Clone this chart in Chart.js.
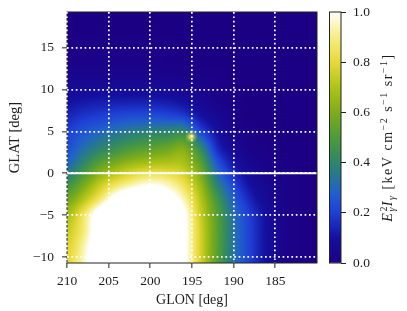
<!DOCTYPE html>
<html>
<head>
<meta charset="utf-8">
<script src="https://cdn.jsdelivr.net/npm/chart.js"></script>
<style>
    html, body { margin: 0; padding: 0; background: #fff; overflow: hidden; }
    #mapChart { position: absolute; left: 0; top: 0; }
    #barChart { position: absolute; left: 320px; top: 0; }
</style>
</head>
<body>
<canvas id="mapChart" width="407" height="311"></canvas>
<canvas id="barChart" width="87" height="311"></canvas>

<script>
    const lonTicks = [210, 205, 200, 195, 190, 185]
    const latTicks = [15, 10, 5, 0, -5, -10]
    const barTicks = [0, 0.2, 0.4, 0.6, 0.8, 1]

    const mapLon = [210, 208, 206, 204, 202, 200, 198, 196, 194, 192, 190, 188, 186, 184, 182, 180]
    const mapLat = [19, 17, 15, 13, 11, 9, 7, 5, 3, 1, -1, -3, -5, -7, -9, -11]
    // saturated area goes a bit over 1 so its edge stays sharp
    const mapValues = [
        [.00, .00, .00, .00, .00, .00, .00, .00, .00, .00, .00, .00, .00, .00, .00, .00],
        [.00, .00, .00, .00, .00, .00, .00, .00, .00, .00, .00, .00, .00, .00, .00, .00],
        [.01, .01, .01, .01, .01, .01, .01, .00, .00, .00, .00, .00, .00, .00, .00, .00],
        [.02, .02, .02, .02, .02, .02, .01, .01, .00, .00, .00, .00, .00, .00, .00, .00],
        [.05, .05, .05, .05, .05, .05, .04, .03, .02, .01, .00, .00, .00, .00, .00, .00],
        [.09, .10, .11, .11, .11, .11, .10, .08, .05, .02, .01, .00, .00, .00, .00, .00],
        [.14, .17, .19, .21, .22, .22, .21, .18, .10, .05, .02, .00, .00, .00, .00, .00],
        [.20, .25, .29, .33, .36, .38, .39, .40, .22, .10, .03, .01, .00, .00, .00, .00],
        [.24, .32, .39, .45, .50, .53, .56, .60, .42, .16, .07, .02, .01, .00, .00, .00],
        [.30, .42, .54, .62, .68, .71, .72, .70, .54, .27, .12, .05, .02, .01, .00, .00],
        [.43, .56, .71, .82, .90, .95, .92, .82, .64, .37, .20, .09, .04, .02, .01, .00],
        [.56, .70, .87, 1.06, 1.14, 1.16, 1.08, .94, .71, .47, .27, .14, .06, .02, .01, .00],
        [.68, .86, 1.10, 1.25, 1.32, 1.35, 1.25, 1.03, .75, .52, .32, .19, .09, .03, .01, .00],
        [.74, .89, 1.12, 1.3, 1.4, 1.4, 1.3, 1.04, .77, .53, .33, .20, .09, .03, .01, .00],
        [.78, .94, 1.15, 1.35, 1.45, 1.45, 1.3, 1.04, .77, .53, .33, .20, .09, .03, .01, .00],
        [.80, .96, 1.18, 1.4, 1.45, 1.45, 1.3, 1.04, .77, .53, .33, .20, .09, .03, .01, .00]
    ]

    const planeLon = [210, 180]
    const planeLat = [0, 0]
    const sourceLon = [195.1]
    const sourceLat = [4.35]

    const colorStops = [0, .1, .2, .28, .35, .42, .5, .6, .7, .8, .87, .93, 1]
    const colorValues = [
        [28, 0, 132], [20, 16, 159], [30, 63, 214], [33, 96, 204], [39, 120, 143],
        [51, 138, 96], [77, 155, 58], [126, 172, 26], [176, 196, 22], [230, 217, 58],
        [242, 232, 104], [249, 243, 166], [255, 255, 255]
    ]

    const serif = 'Liberation Serif'
    const inkColor = '#1c1c1c'

    function colorAt(v) {
        if (v <= 0) return colorValues[0]
        if (v >= 1) return colorValues[colorValues.length - 1]
        let i = 1
        while (colorStops[i] < v) i++
        const t = (v - colorStops[i - 1]) / (colorStops[i] - colorStops[i - 1])
        const a = colorValues[i - 1], b = colorValues[i]
        return [a[0] + (b[0] - a[0]) * t, a[1] + (b[1] - a[1]) * t, a[2] + (b[2] - a[2]) * t]
    }

    // catmull-rom, same idea as imshow interpolation
    function cubic(p0, p1, p2, p3, t) {
        return p1 + 0.5 * t * (p2 - p0 + t * (2 * p0 - 5 * p1 + 4 * p2 - p3 + t * (3 * (p1 - p2) + p3 - p0)))
    }

    function sampleMap(fc, fr) {
        const clampC = c => Math.max(0, Math.min(mapLon.length - 1, c))
        const clampR = r => Math.max(0, Math.min(mapLat.length - 1, r))
        const c = Math.floor(fc), r = Math.floor(fr)
        const rows = []
        for (let j = -1; j <= 2; j++) {
            const row = mapValues[clampR(r + j)]
            rows.push(cubic(row[clampC(c - 1)], row[clampC(c)], row[clampC(c + 1)], row[clampC(c + 2)], fc - c))
        }
        return cubic(rows[0], rows[1], rows[2], rows[3], fr - r)
    }

    const heatPlugin = {
        id: 'heat',
        beforeDatasetsDraw(chart) {
            const area = chart.chartArea
            const cells = chart.getDatasetMeta(2).data
            const x0 = cells[0].x, dx = cells[1].x - x0
            const y0 = cells[0].y, dy = cells[mapLon.length].y - y0
            const w = Math.round(area.right - area.left), h = Math.round(area.bottom - area.top)
            const off = document.createElement('canvas')
            off.width = w
            off.height = h
            const offCtx = off.getContext('2d')
            const img = offCtx.createImageData(w, h)
            for (let py = 0; py < h; py++) {
                for (let px = 0; px < w; px++) {
                    const fc = (area.left + px + 0.5 - x0) / dx
                    const fr = (area.top + py + 0.5 - y0) / dy
                    const rgb = colorAt(sampleMap(fc, fr))
                    const k = (py * w + px) * 4
                    img.data[k] = rgb[0]
                    img.data[k + 1] = rgb[1]
                    img.data[k + 2] = rgb[2]
                    img.data[k + 3] = 255
                }
            }
            offCtx.putImageData(img, 0, 0)
            chart.ctx.drawImage(off, area.left, area.top, area.right - area.left, area.bottom - area.top)
        },
        afterDatasetsDraw(chart) {
            drawFrame(chart)
        }
    }

    function drawFrame(chart) {
        const a = chart.chartArea
        const ctx = chart.ctx
        ctx.save()
        ctx.strokeStyle = '#222'
        ctx.lineWidth = 1
        ctx.strokeRect(a.left, a.top, a.right - a.left, a.bottom - a.top)
        ctx.restore()
    }

    function makeSourceDot() {
        const c = document.createElement('canvas')
        c.width = 14
        c.height = 14
        const g = c.getContext('2d')
        const grad = g.createRadialGradient(7, 7, 0, 7, 7, 7)
        grad.addColorStop(0, 'rgba(252,246,170,1)')
        grad.addColorStop(0.3, 'rgba(240,224,90,0.8)')
        grad.addColorStop(0.65, 'rgba(205,205,40,0.3)')
        grad.addColorStop(1, 'rgba(170,190,20,0)')
        g.fillStyle = grad
        g.fillRect(0, 0, 14, 14)
        return c
    }

    // tick padding would otherwise push the plot area in
    function noScalePadding(s) {
        s.paddingTop = 0
        s.paddingBottom = 0
        s.paddingLeft = 0
        s.paddingRight = 0
    }

    const mapCells = []
    mapLat.forEach((lat, r) => {
        mapLon.forEach((lon, c) => {
            mapCells.push({ x: lon, y: lat, v: mapValues[r][c] })
        })
    })

    new Chart(document.getElementById('mapChart'), {
        type: 'scatter',
        data: {
            datasets: [
                {
                    data: sourceLon.map((x, i) => ({ x: x, y: sourceLat[i] })),
                    pointStyle: makeSourceDot(),
                    pointRadius: 7
                },
                {
                    data: planeLon.map((x, i) => ({ x: x, y: planeLat[i] })),
                    showLine: true,
                    borderColor: '#fff',
                    borderWidth: 2,
                    pointRadius: 0
                },
                { data: mapCells, pointRadius: 0, pointHoverRadius: 0 }
            ]
        },
        options: {
            responsive: false,
            animation: false,
            events: [],
            layout: { padding: { left: 0, top: 12, right: 90, bottom: 0 } },
            plugins: { legend: { display: false }, tooltip: { enabled: false } },
            scales: {
                x: {
                    type: 'linear',
                    reverse: true,
                    min: 180,
                    max: 210,
                    afterBuildTicks: s => { s.ticks = lonTicks.map(v => ({ value: v })) },
                    afterFit: s => { s.height = 48; noScalePadding(s) },
                    grid: { color: '#fff', lineWidth: 1.7, z: 1, tickColor: '#222', tickLength: 5, tickWidth: 1 },
                    border: { display: true, width: 0, dash: [1.7, 2.7] },
                    ticks: {
                        color: inkColor, font: { family: serif, size: 13.5 }, maxRotation: 0, padding: 5,
                        callback: v => String(v)
                    },
                    title: {
                        display: true, text: 'GLON [deg]', color: inkColor,
                        font: { family: serif, size: 14 }, padding: { top: 2, bottom: 2 }
                    }
                },
                y: {
                    type: 'linear',
                    min: -10.7,
                    max: 19.25,
                    afterBuildTicks: s => { s.ticks = latTicks.map(v => ({ value: v })) },
                    afterFit: s => { s.width = 67; noScalePadding(s) },
                    grid: { color: '#fff', lineWidth: 1.7, z: 1, tickColor: '#222', tickLength: 5, tickWidth: 1 },
                    border: { display: true, width: 0, dash: [1.7, 2.7] },
                    ticks: {
                        color: inkColor, font: { family: serif, size: 13.5 }, padding: 8,
                        callback: v => String(v).replace('-', '\u2212')
                    },
                    title: {
                        display: true, text: 'GLAT [deg]', color: inkColor,
                        font: { family: serif, size: 14.5 }, padding: { top: 6, bottom: 0 }
                    }
                }
            }
        },
        plugins: [heatPlugin]
    })

    // colorbar label has super and subscripts so it is set piece by piece
    const barTitleParts = [
        ['E', 'i'], ['2', 'sup', 0], ['\u03b3', 'sub'], ['I', 'i'], ['\u03b3', 'sub'],
        [' [keV cm', 'n'], ['\u22122', 'sup'], [' s', 'n'], ['\u22121', 'sup'],
        [' sr', 'n'], ['\u22121', 'sup'], [']', 'n']
    ]

    const barPlugin = {
        id: 'barExtras',
        afterDraw(chart) {
            drawFrame(chart)
            const ctx = chart.ctx
            const fonts = {
                n: '14px "' + serif + '"',
                i: 'italic 14px "' + serif + '"',
                sup: '10px "' + serif + '"',
                sub: 'italic 10px "' + serif + '"'
            }
            const shift = { n: 0, i: 0, sup: -5.5, sub: 3 }
            ctx.save()
            ctx.letterSpacing = '1.5px'
            const widthOf = p => {
                ctx.font = fonts[p[1]]
                return p.length > 2 ? p[2] : ctx.measureText(p[0]).width
            }
            const total = barTitleParts.reduce((sum, p) => sum + widthOf(p), 0)
            ctx.translate(72, (chart.chartArea.top + chart.chartArea.bottom) / 2)
            ctx.rotate(-Math.PI / 2)
            ctx.fillStyle = inkColor
            ctx.textBaseline = 'alphabetic'
            let pos = -total / 2
            barTitleParts.forEach(p => {
                const w = widthOf(p)
                ctx.font = fonts[p[1]]
                ctx.fillText(p[0], pos, shift[p[1]])
                pos += w
            })
            ctx.restore()
        }
    }

    new Chart(document.getElementById('barChart'), {
        type: 'bar',
        data: {
            labels: [''],
            datasets: [{
                data: [[barTicks[0], barTicks[barTicks.length - 1]]],
                barPercentage: 1,
                categoryPercentage: 1,
                backgroundColor: ctx => {
                    const a = ctx.chart.chartArea
                    if (!a) return 'rgb(' + colorValues[0].join(',') + ')'
                    const g = ctx.chart.ctx.createLinearGradient(0, a.bottom, 0, a.top)
                    colorStops.forEach((s, i) => g.addColorStop(s, 'rgb(' + colorValues[i].join(',') + ')'))
                    return g
                }
            }]
        },
        options: {
            responsive: false,
            animation: false,
            events: [],
            layout: { padding: { left: 9.5, top: 12, right: 0, bottom: 48 } },
            plugins: { legend: { display: false }, tooltip: { enabled: false } },
            scales: {
                x: { display: false },
                y: {
                    position: 'right',
                    min: 0,
                    max: 1,
                    afterBuildTicks: s => { s.ticks = barTicks.map(v => ({ value: v })) },
                    afterFit: s => { s.width = 66; noScalePadding(s) },
                    grid: { drawOnChartArea: false, tickColor: '#222', tickLength: 5, tickWidth: 1 },
                    border: { display: false },
                    ticks: {
                        color: inkColor, font: { family: serif, size: 13.5 }, padding: 7,
                        callback: v => v.toFixed(1)
                    }
                }
            }
        },
        plugins: [barPlugin]
    })
</script>
</body>
</html>
